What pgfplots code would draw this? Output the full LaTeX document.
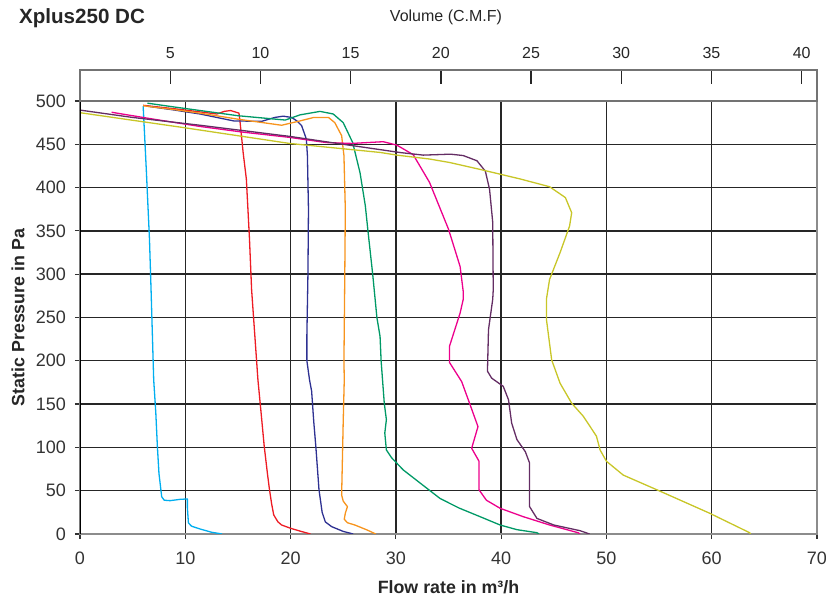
\documentclass[border=0pt]{standalone}
\usepackage{fontspec}
\setmainfont{Liberation Sans}
\usepackage{pgfplots}
\pgfplotsset{compat=1.18}
\definecolor{ccyan}{RGB}{0,174,239}
\definecolor{cred}{RGB}{237,28,36}
\definecolor{cnavy}{RGB}{46,49,146}
\definecolor{corange}{RGB}{247,148,29}
\definecolor{cgreen}{RGB}{0,153,102}
\definecolor{cmag}{RGB}{236,0,140}
\definecolor{cpurple}{RGB}{100,45,100}
\definecolor{cyell}{RGB}{200,198,40}
\begin{document}
\begin{tikzpicture}
\path[use as bounding box] (-40pt,-30.5pt) rectangle (373pt,267pt);
\begin{axis}[name=main, at={(0,0)}, anchor=south west, scale only axis,
  width=368.5pt, height=216.5pt,
  xmin=0, xmax=70, ymin=0, ymax=500,
  xtick={0,10,...,70}, ytick={0,50,...,500},
  grid=major, major grid style={black!85, line width=0.7pt},
  tick pos=left, tick align=outside, major tick length=2.5pt,
  tick style={black!80, line width=0.6pt},
  axis line style={black!45, line width=0.7pt},
  /pgf/number format/assume math mode=true,
  ticklabel style={font=\fontsize{9}{10}\selectfont, text=black!80},
  xticklabel style={yshift=-3pt},
  yticklabel style={xshift=-1pt},
  xlabel={Flow rate in m³/h},
  ylabel={Static Pressure in Pa},
  label style={font=\bfseries\fontsize{8.9}{10}\selectfont, text=black!85},
  xlabel style={at={(axis description cs:0.5,0)}, anchor=center, yshift=-26.5pt},
  ylabel style={at={(axis description cs:0,0.5)}, anchor=center, yshift=31pt},
  every axis plot/.append style={line width=0.65pt, line join=round},
]
% cyan
\addplot[ccyan] coordinates {(6.0,494)(6.3,420)(6.6,340)(6.75,282)(7.0,178)(7.2,140)(7.35,101)(7.5,70)(7.76,43)(8.0,39)(8.55,38.5)(9.5,40)(10.2,40.5)(10.2,30)(10.3,12.7)(10.6,9)(11.4,5.8)(12.5,2)(13.5,0)};
% red
\addplot[cred] coordinates {(6.0,495)(9,491)(13.0,485)(13.7,488)(14.3,489)(15.1,486)(15.2,476)(15.5,440)(15.8,410)(16.1,340)(16.3,282)(16.6,230)(16.9,178)(17.2,140)(17.5,101)(17.8,70)(18.0,51)(18.2,35)(18.4,22)(18.8,14)(19.15,10.4)(20.0,6.6)(21.0,3)(21.9,0)};
% navy
\addplot[cnavy] coordinates {(6.4,494)(9,489.5)(11.4,485)(14.6,477)(17.25,476.5)(18.5,481)(19.3,482.5)(20.1,481)(20.6,477)(21.05,471.5)(21.5,456)(21.6,437)(21.7,375)(21.65,300)(21.55,230)(21.55,200)(21.8,178)(22.0,165)(22.2,130)(22.4,101)(22.7,51)(23.0,25)(23.3,14)(23.9,8.5)(25.0,3)(25.95,0)};
% orange
\addplot[corange] coordinates {(6.0,494.5)(9,490)(11.4,486)(15,479)(19.15,472)(20.9,477)(22.2,481)(23.6,481)(24.2,475)(24.85,460)(25.07,437)(25.2,375)(25.15,300)(25.07,200)(25.1,178)(25.0,130)(24.95,101)(24.85,45)(25.0,38)(25.4,31.6)(25.2,24)(25.1,17)(25.4,13)(26.1,10.4)(27.2,5)(28.1,0)};
% green
\addplot[cgreen] coordinates {(6.4,497.5)(9,493)(11.4,489)(15,483)(19.5,478)(20.9,484)(22.8,488)(24.05,485)(25.0,475)(25.9,452)(26.6,417)(27.1,379)(27.35,350)(27.8,300)(28.2,250)(28.5,228)(28.6,200)(28.9,151)(29.1,132)(28.95,116.5)(29.1,97)(29.6,88)(30.7,74)(32.5,57)(34.2,41)(36,30)(38.0,20)(39.9,10.4)(41.5,5)(43.4,1.5)(43.6,0)};
% magenta
\addplot[cmag] coordinates {(3.0,487)(7,479)(11.4,470.6)(15.5,464)(19.9,458)(23.4,452)(25.8,451)(28.8,453)(30.1,449)(31.65,438)(33.2,406)(35.0,352)(36.1,309)(36.4,280)(36.4,271)(36.1,255)(35.1,217)(35.1,198)(36.25,176)(37.0,151)(37.8,124)(37.2,99)(37.9,84)(37.9,51)(38.6,39)(39.9,29.7)(42.1,20)(44.6,10.4)(47.3,1.5)(47.5,0)};
% purple
\addplot[cpurple] coordinates {(0,489.5)(5,481)(11.4,472)(20,459)(25.0,450)(27.85,445)(30.4,440.5)(32.6,437.5)(35.2,438.6)(36.4,437)(37.7,431)(38.5,419)(38.9,398)(39.2,360)(39.25,282)(39.2,271)(38.8,236)(38.7,188)(39.1,180)(40.2,170.5)(40.7,155)(41.0,128)(41.5,109)(42.3,95)(42.7,82)(42.7,31.6)(43.4,18)(45.0,10.4)(47.5,3.8)(48.4,0)};
% yellow
\addplot[cyell] coordinates {(0,486.5)(10,469)(19.9,451)(28.5,440.6)(30.1,437.5)(33.2,433)(35.1,429)(38.0,421)(41.8,410)(44.6,401)(46.1,388.5)(46.7,371)(46.5,355.6)(45.6,325)(44.6,294)(44.3,271)(44.3,248)(44.8,201)(45.6,174)(46.7,151)(47.8,136)(49.05,113)(49.4,97)(50.0,84)(51.6,68)(54.8,51)(59.8,24)(63.6,1.5)(63.7,0)};
\draw[black, line width=0.7pt] (rel axis cs:0,0) -- (rel axis cs:0,1);
\end{axis}
\begin{axis}[at={(main.north west)}, anchor=south west, scale only axis,
  width=368.5pt, height=15.5pt,
  xmin=0, xmax=40.85, ymin=0, ymax=1,
  ytick=\empty, xtick={5,10,...,40},
  xtick pos=right, xticklabel pos=right, tick align=inside,
  major tick length=7pt,
  axis line style={black!55, line width=0.7pt},
  tick style={black!85, line width=0.7pt},
  /pgf/number format/assume math mode=true,
  xticklabel style={font=\fontsize{8}{10}\selectfont, text=black!85, yshift=2pt},
]
\end{axis}
\node[anchor=west, font=\bfseries\fontsize{10.3}{12}\selectfont, text=black!85] at (-34pt,258pt) {Xplus250 DC};
\node[font=\fontsize{8}{10}\selectfont, text=black!85] at (183pt,258.5pt) {Volume (C.M.F)};
\end{tikzpicture}
\end{document}
